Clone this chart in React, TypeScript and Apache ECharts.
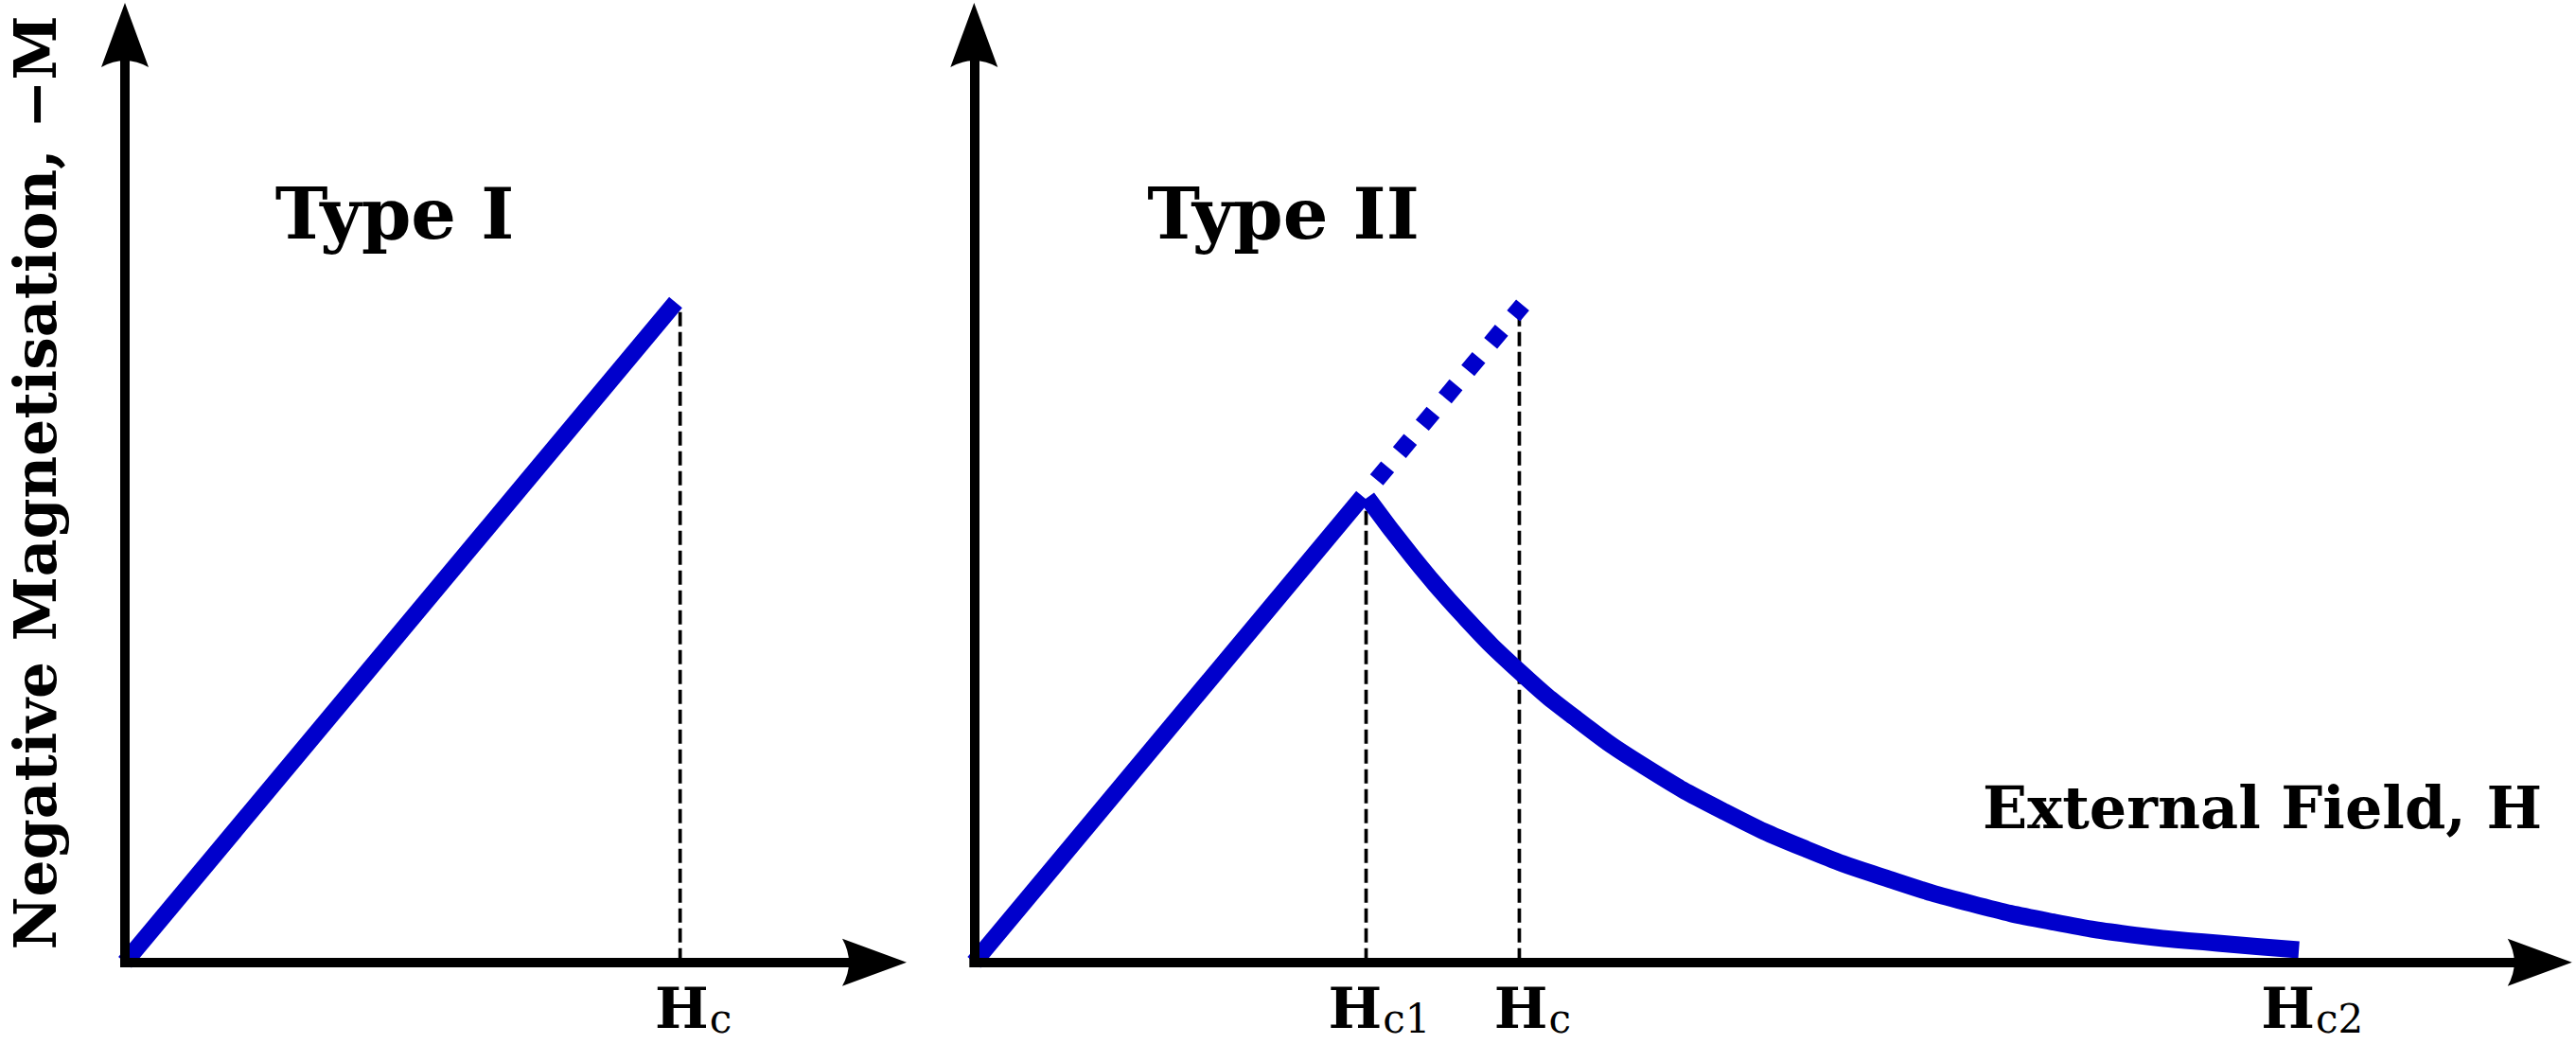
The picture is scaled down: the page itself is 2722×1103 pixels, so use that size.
import React, { useEffect, useRef } from "react";
import * as echarts from "echarts";

// ---------- data (H in units of the critical field Hc, -M normalised) ----------
// Type I
const typeILineH = [0, 0.992];
const typeILineM = [0, 1.0];
const typeIHcGuideH = [1.0, 1.0];
const typeIHcGuideM = [0, 0.988];

// Type II
const typeIIMeissnerH = [0, 0.7];
const typeIIMeissnerM = [0, 0.706];
const typeIIExtrapH = [0.725, 0.988];
const typeIIExtrapM = [0.731, 0.996];
const typeIIMixedH = [0.708, 0.79, 0.879, 0.983, 1.086, 1.205, 1.352, 1.5, 1.648, 1.796, 1.944, 2.092, 2.24, 2.386];
const typeIIMixedM = [0.704, 0.614, 0.527, 0.44, 0.368, 0.298, 0.228, 0.171, 0.126, 0.089, 0.061, 0.041, 0.029, 0.019];
const typeIIHc1GuideH = [0.706, 0.706];
const typeIIHc1GuideM = [0, 0.698];
const typeIIHcGuideH = [0.982, 0.982];
const typeIIHcGuideM = [0, 0.975];

// tick labels (field values and subscripts)
const tickLabelsIH = [1.0];
const tickLabelsISub = ["c"];
const tickLabelsIIH = [0.706, 0.982, 2.386];
const tickLabelsIISub = ["c1", "c", "c2"];

const panelTitles = ["Type I", "Type II"];
const xAxisTitle = "External Field, H";
const yAxisTitle = "Negative Magnetisation, \u2212M";

const X_MAX_I = 1.35;
const X_MAX_II = 2.82;
const Y_MAX = 1.405;

// ---------- styles ----------
const BLUE = "#0000cc";
const FONT = "DejaVu Serif";
const ARROW = "path://M25,0 L50,68 Q25,54 0,68 Z";

const pts = (xs: number[], ys: number[]) => xs.map((x, i) => [x, ys[i]]);

const axisCommon = (max: number, gridIndex: number) => ({
  type: "value",
  gridIndex,
  min: 0,
  max,
  z: 5,
  axisLine: {
    show: true,
    onZero: false,
    symbol: ["none", ARROW],
    symbolSize: [50, 68],
    lineStyle: { color: "#000", width: 10, cap: "square" },
  },
  axisTick: { show: false },
  axisLabel: { show: false },
  splitLine: { show: false },
});

const blueLine = (data: number[][], idx: number, dashed = false) => ({
  type: "line",
  xAxisIndex: idx,
  yAxisIndex: idx,
  data,
  symbol: "none",
  showSymbol: false,
  smooth: false,
  z: 2,
  silent: true,
  lineStyle: {
    color: BLUE,
    width: 18,
    cap: "butt",
    join: "miter",
    type: dashed ? [18, 19.6] : "solid",
  },
});

const guide = (data: number[][], idx: number) => ({
  type: "line",
  xAxisIndex: idx,
  yAxisIndex: idx,
  data,
  symbol: "none",
  showSymbol: false,
  z: 1,
  silent: true,
  lineStyle: { color: "#000", width: 3.7, type: [15, 6], cap: "butt" },
});

const tickLabels = (hs: number[], subs: string[], idx: number) => ({
  type: "scatter",
  xAxisIndex: idx,
  yAxisIndex: idx,
  clip: false,
  symbolSize: 0,
  itemStyle: { color: "#000", opacity: 1 },
  silent: true,
  z: 6,
  data: hs.map((h, i) => ({ value: [h, 0], sub: subs[i] })),
  label: {
    show: true,
    position: [14, 18],
    align: "center",
    verticalAlign: "top",
    color: "#000",
    opacity: 1,
    formatter: (p: any) => `{h|H}{s|${p.data.sub}}`,
    rich: {
      h: {
        fontFamily: FONT,
        fontWeight: "bold",
        fontSize: 60,
        lineHeight: 60,
        color: "#000",
        verticalAlign: "top",
      },
      s: {
        fontFamily: FONT,
        fontWeight: "normal",
        fontSize: 42,
        lineHeight: 42,
        color: "#000",
        verticalAlign: "top",
        padding: [21, 0, 0, 1],
      },
    },
  },
});

const textEl = (
  text: string,
  x: number,
  y: number,
  size: number,
  align: string,
  rotation = 0
) => ({
  type: "text",
  x,
  y,
  rotation,
  silent: true,
  z: 10,
  style: {
    text,
    fontFamily: FONT,
    fontWeight: "bold",
    fontSize: size,
    fill: "#000",
    align,
    verticalAlign: "middle",
    textAlign: align,
    textVerticalAlign: "middle",
  },
});

export default function App() {
  const ref = useRef<HTMLDivElement>(null);

  useEffect(() => {
    if (!ref.current) return;
    const chart = echarts.init(ref.current, undefined, { renderer: "svg" });
    const option: any = {
      animation: false,
      backgroundColor: "#fff",
      grid: [
        { left: 132, top: 37, width: 792, height: 979.7 },
        { left: 1029.3, top: 37, width: 1654.5, height: 979.7 },
      ],
      xAxis: [axisCommon(X_MAX_I, 0), axisCommon(X_MAX_II, 1)],
      yAxis: [axisCommon(Y_MAX, 0), axisCommon(Y_MAX, 1)],
      series: [
        guide(pts(typeIHcGuideH, typeIHcGuideM), 0),
        blueLine(pts(typeILineH, typeILineM), 0),
        tickLabels(tickLabelsIH, tickLabelsISub, 0),

        guide(pts(typeIIHc1GuideH, typeIIHc1GuideM), 1),
        guide(pts(typeIIHcGuideH, typeIIHcGuideM), 1),
        blueLine(pts(typeIIMeissnerH, typeIIMeissnerM), 1),
        blueLine(pts(typeIIExtrapH, typeIIExtrapM), 1, true),
        {
          ...blueLine(pts(typeIIMixedH, typeIIMixedM), 1),
          smooth: 0.5,
        },
        tickLabels(tickLabelsIIH, tickLabelsIISub, 1),
      ],
      graphic: [
        textEl(panelTitles[0], 417, 226, 75, "center"),
        textEl(panelTitles[1], 1356, 226, 75, "center"),
        textEl(xAxisTitle, 2686, 853, 62, "right"),
        textEl(yAxisTitle, 37, 510, 61.5, "center", Math.PI / 2),
      ],
    };
    chart.setOption(option);
    return () => chart.dispose();
  }, []);

  return (
    <div
      ref={ref}
      style={{ position: "fixed", left: 0, top: 0, width: 2722, height: 1103, background: "#fff" }}
    />
  );
}
